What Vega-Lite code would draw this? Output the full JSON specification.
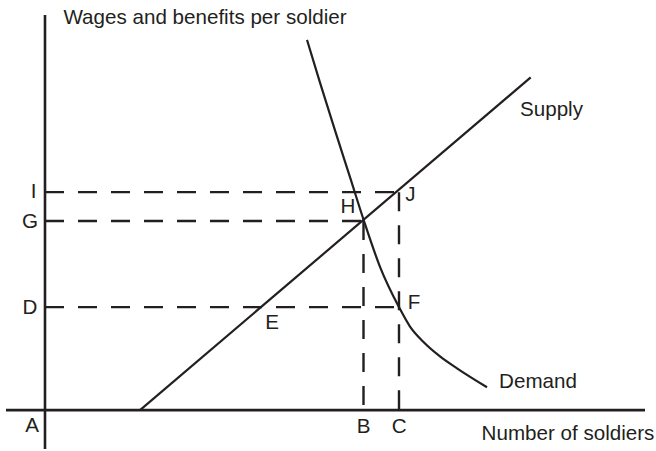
{
  "$schema": "https://vega.github.io/schema/vega-lite/v6.json",
  "width": 656,
  "height": 451,
  "autosize": {"type": "fit", "contains": "padding"},
  "padding": 0,
  "background": "white",
  "config": {"view": {"stroke": null}},
  "datasets": {
    "axes": [
      {"x": 0, "y": 397, "x2": 0, "y2": -39},
      {"x": -39, "y": 0, "x2": 600, "y2": 0}
    ],
    "guides": [
      {"x": 0, "y": 219, "x2": 354, "y2": 219},
      {"x": 0, "y": 190, "x2": 319, "y2": 190},
      {"x": 0, "y": 103.5, "x2": 354, "y2": 103.5},
      {"x": 318.5, "y": 190, "x2": 318.5, "y2": 0},
      {"x": 354, "y": 219, "x2": 354, "y2": 0}
    ],
    "supply": [
      {"x": 95, "y": 0},
      {"x": 485.7, "y": 334.3}
    ],
    "demand": [
      {"x": 262, "y": 372},
      {"x": 275, "y": 329},
      {"x": 290, "y": 281},
      {"x": 305, "y": 234},
      {"x": 319, "y": 190},
      {"x": 335, "y": 144},
      {"x": 354, "y": 103.5},
      {"x": 365, "y": 84},
      {"x": 378, "y": 69},
      {"x": 395, "y": 54},
      {"x": 412, "y": 42},
      {"x": 442, "y": 23}
    ],
    "labels": [
      {"x": 160, "y": 387.8, "label": "Wages and benefits per soldier"},
      {"x": 506.5, "y": 295.8, "label": "Supply"},
      {"x": 493, "y": 22.3, "label": "Demand"},
      {"x": 523, "y": -30.2, "label": "Number of soldiers"},
      {"x": -13, "y": -22.2, "label": "A"},
      {"x": 318.5, "y": -23.2, "label": "B"},
      {"x": 354.3, "y": -23.2, "label": "C"},
      {"x": -15, "y": 96.8, "label": "D"},
      {"x": -15, "y": 182.8, "label": "G"},
      {"x": -11.5, "y": 212.8, "label": "I"},
      {"x": 227, "y": 81.8, "label": "E"},
      {"x": 369, "y": 101.3, "label": "F"},
      {"x": 303, "y": 197.8, "label": "H"},
      {"x": 365.5, "y": 209.8, "label": "J"}
    ]
  },
  "encoding": {
    "x": {"field": "x", "type": "quantitative", "scale": {"domain": [-45, 611], "nice": false, "zero": false}, "axis": null},
    "y": {"field": "y", "type": "quantitative", "scale": {"domain": [-39, 412], "nice": false, "zero": false}, "axis": null}
  },
  "layer": [
    {
      "data": {"name": "axes"},
      "mark": {"type": "rule", "color": "#231f20", "strokeWidth": 2.6},
      "encoding": {"x2": {"field": "x2"}, "y2": {"field": "y2"}}
    },
    {
      "data": {"name": "guides"},
      "mark": {"type": "rule", "color": "#231f20", "strokeWidth": 2.4, "strokeDash": [19, 14], "strokeCap": "butt"},
      "encoding": {"x2": {"field": "x2"}, "y2": {"field": "y2"}}
    },
    {
      "data": {"name": "supply"},
      "mark": {"type": "line", "color": "#231f20", "strokeWidth": 2.2}
    },
    {
      "data": {"name": "demand"},
      "mark": {"type": "line", "color": "#231f20", "strokeWidth": 2.2, "interpolate": "monotone"}
    },
    {
      "data": {"name": "labels"},
      "mark": {"type": "text", "font": "Liberation Sans", "fontSize": 20.6, "color": "#231f20", "align": "center", "baseline": "alphabetic"},
      "encoding": {"text": {"field": "label"}}
    }
  ]
}
